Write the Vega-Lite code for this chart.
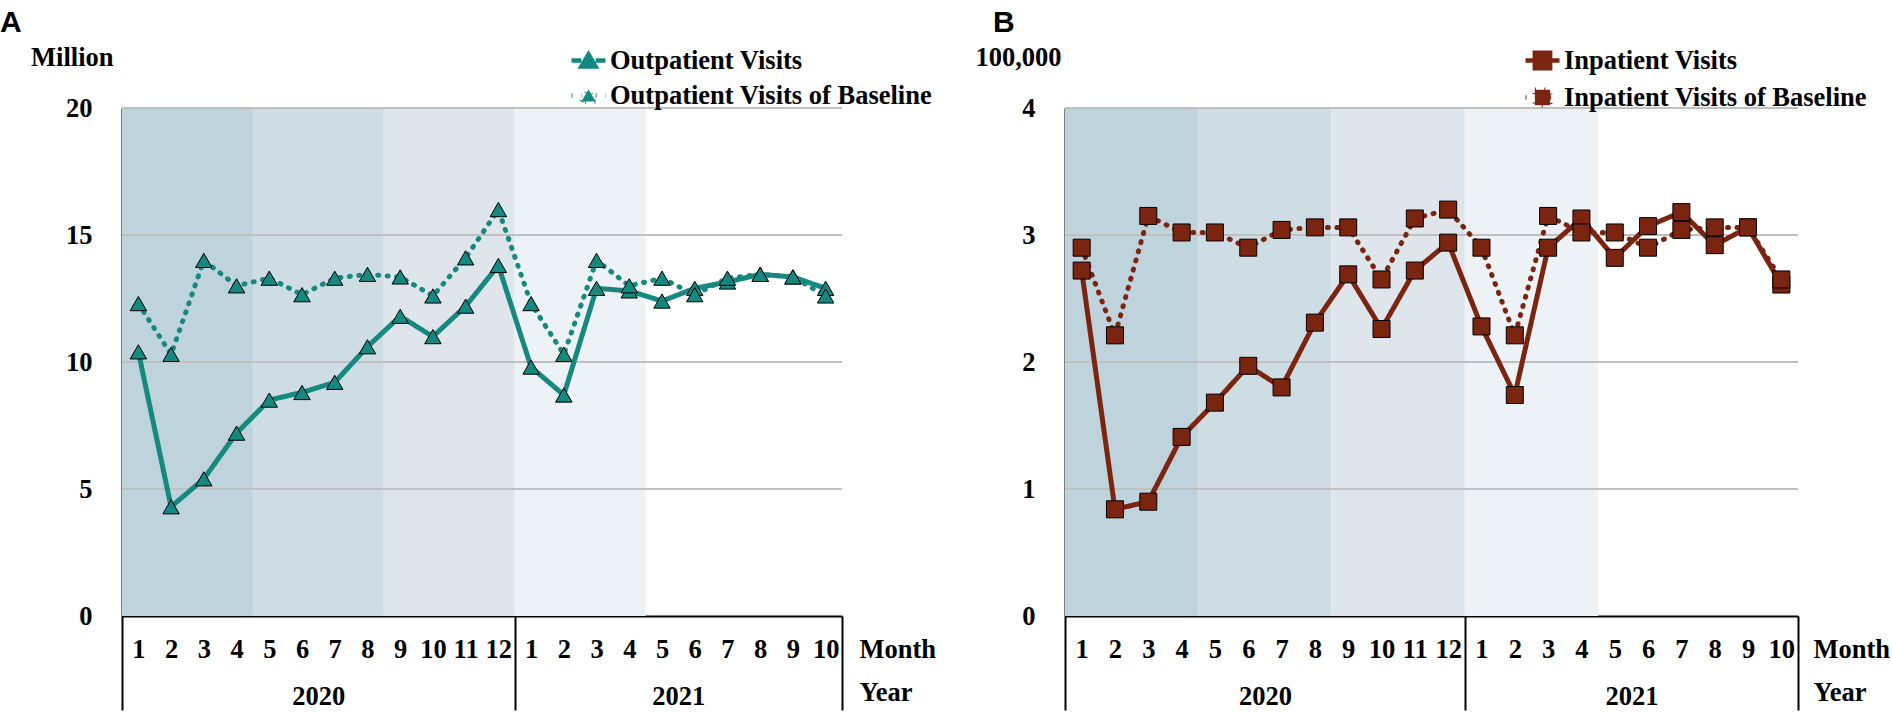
{
  "$schema": "https://vega.github.io/schema/vega-lite/v6.json",
  "background": "white",
  "padding": {"left": 0, "top": 8, "right": 0, "bottom": 0},
  "bounds": "flush",
  "spacing": 223,
  "resolve": {"scale": {"strokeDash": "independent", "color": "independent"}, "legend": {"strokeDash": "independent"}},
  "datasets": {
    "phases": [
      {"from": 0.5, "to": 4.5, "phase": "2020 Jan-Apr"},
      {"from": 4.5, "to": 8.5, "phase": "2020 May-Aug"},
      {"from": 8.5, "to": 12.5, "phase": "2020 Sep-Dec"},
      {"from": 12.5, "to": 16.5, "phase": "2021 Jan-Apr"}
    ],
    "gridA": [{"g": 5}, {"g": 10}, {"g": 15}, {"g": 20}],
    "gridB": [{"g": 1}, {"g": 2}, {"g": 3}, {"g": 4}],
    "opd": [
      {"t": 1, "year": 2020, "month": 1, "series": "Outpatient Visits", "value": 10.4},
      {"t": 2, "year": 2020, "month": 2, "series": "Outpatient Visits", "value": 4.3},
      {"t": 3, "year": 2020, "month": 3, "series": "Outpatient Visits", "value": 5.4},
      {"t": 4, "year": 2020, "month": 4, "series": "Outpatient Visits", "value": 7.2},
      {"t": 5, "year": 2020, "month": 5, "series": "Outpatient Visits", "value": 8.5},
      {"t": 6, "year": 2020, "month": 6, "series": "Outpatient Visits", "value": 8.8},
      {"t": 7, "year": 2020, "month": 7, "series": "Outpatient Visits", "value": 9.2},
      {"t": 8, "year": 2020, "month": 8, "series": "Outpatient Visits", "value": 10.6},
      {"t": 9, "year": 2020, "month": 9, "series": "Outpatient Visits", "value": 11.8},
      {"t": 10, "year": 2020, "month": 10, "series": "Outpatient Visits", "value": 11.0},
      {"t": 11, "year": 2020, "month": 11, "series": "Outpatient Visits", "value": 12.2},
      {"t": 12, "year": 2020, "month": 12, "series": "Outpatient Visits", "value": 13.8},
      {"t": 13, "year": 2021, "month": 1, "series": "Outpatient Visits", "value": 9.8},
      {"t": 14, "year": 2021, "month": 2, "series": "Outpatient Visits", "value": 8.7},
      {"t": 15, "year": 2021, "month": 3, "series": "Outpatient Visits", "value": 12.9},
      {"t": 16, "year": 2021, "month": 4, "series": "Outpatient Visits", "value": 12.8},
      {"t": 17, "year": 2021, "month": 5, "series": "Outpatient Visits", "value": 12.4},
      {"t": 18, "year": 2021, "month": 6, "series": "Outpatient Visits", "value": 12.9},
      {"t": 19, "year": 2021, "month": 7, "series": "Outpatient Visits", "value": 13.15},
      {"t": 20, "year": 2021, "month": 8, "series": "Outpatient Visits", "value": 13.45},
      {"t": 21, "year": 2021, "month": 9, "series": "Outpatient Visits", "value": 13.35},
      {"t": 22, "year": 2021, "month": 10, "series": "Outpatient Visits", "value": 12.9},
      {"t": 1, "year": 2020, "month": 1, "series": "Outpatient Visits of Baseline", "value": 12.3},
      {"t": 2, "year": 2020, "month": 2, "series": "Outpatient Visits of Baseline", "value": 10.3},
      {"t": 3, "year": 2020, "month": 3, "series": "Outpatient Visits of Baseline", "value": 14.0},
      {"t": 4, "year": 2020, "month": 4, "series": "Outpatient Visits of Baseline", "value": 13.0},
      {"t": 5, "year": 2020, "month": 5, "series": "Outpatient Visits of Baseline", "value": 13.3},
      {"t": 6, "year": 2020, "month": 6, "series": "Outpatient Visits of Baseline", "value": 12.65},
      {"t": 7, "year": 2020, "month": 7, "series": "Outpatient Visits of Baseline", "value": 13.3},
      {"t": 8, "year": 2020, "month": 8, "series": "Outpatient Visits of Baseline", "value": 13.45},
      {"t": 9, "year": 2020, "month": 9, "series": "Outpatient Visits of Baseline", "value": 13.35},
      {"t": 10, "year": 2020, "month": 10, "series": "Outpatient Visits of Baseline", "value": 12.6},
      {"t": 11, "year": 2020, "month": 11, "series": "Outpatient Visits of Baseline", "value": 14.1},
      {"t": 12, "year": 2020, "month": 12, "series": "Outpatient Visits of Baseline", "value": 16.0},
      {"t": 13, "year": 2021, "month": 1, "series": "Outpatient Visits of Baseline", "value": 12.3},
      {"t": 14, "year": 2021, "month": 2, "series": "Outpatient Visits of Baseline", "value": 10.3},
      {"t": 15, "year": 2021, "month": 3, "series": "Outpatient Visits of Baseline", "value": 14.0},
      {"t": 16, "year": 2021, "month": 4, "series": "Outpatient Visits of Baseline", "value": 13.0},
      {"t": 17, "year": 2021, "month": 5, "series": "Outpatient Visits of Baseline", "value": 13.3},
      {"t": 18, "year": 2021, "month": 6, "series": "Outpatient Visits of Baseline", "value": 12.65},
      {"t": 19, "year": 2021, "month": 7, "series": "Outpatient Visits of Baseline", "value": 13.3},
      {"t": 20, "year": 2021, "month": 8, "series": "Outpatient Visits of Baseline", "value": 13.45},
      {"t": 21, "year": 2021, "month": 9, "series": "Outpatient Visits of Baseline", "value": 13.35},
      {"t": 22, "year": 2021, "month": 10, "series": "Outpatient Visits of Baseline", "value": 12.6}
    ],
    "ipd": [
      {"t": 1, "year": 2020, "month": 1, "series": "Inpatient Visits", "value": 2.72},
      {"t": 2, "year": 2020, "month": 2, "series": "Inpatient Visits", "value": 0.84},
      {"t": 3, "year": 2020, "month": 3, "series": "Inpatient Visits", "value": 0.9},
      {"t": 4, "year": 2020, "month": 4, "series": "Inpatient Visits", "value": 1.41},
      {"t": 5, "year": 2020, "month": 5, "series": "Inpatient Visits", "value": 1.68},
      {"t": 6, "year": 2020, "month": 6, "series": "Inpatient Visits", "value": 1.97},
      {"t": 7, "year": 2020, "month": 7, "series": "Inpatient Visits", "value": 1.8},
      {"t": 8, "year": 2020, "month": 8, "series": "Inpatient Visits", "value": 2.31},
      {"t": 9, "year": 2020, "month": 9, "series": "Inpatient Visits", "value": 2.69},
      {"t": 10, "year": 2020, "month": 10, "series": "Inpatient Visits", "value": 2.26},
      {"t": 11, "year": 2020, "month": 11, "series": "Inpatient Visits", "value": 2.72},
      {"t": 12, "year": 2020, "month": 12, "series": "Inpatient Visits", "value": 2.94},
      {"t": 13, "year": 2021, "month": 1, "series": "Inpatient Visits", "value": 2.28},
      {"t": 14, "year": 2021, "month": 2, "series": "Inpatient Visits", "value": 1.74},
      {"t": 15, "year": 2021, "month": 3, "series": "Inpatient Visits", "value": 2.9},
      {"t": 16, "year": 2021, "month": 4, "series": "Inpatient Visits", "value": 3.13},
      {"t": 17, "year": 2021, "month": 5, "series": "Inpatient Visits", "value": 2.82},
      {"t": 18, "year": 2021, "month": 6, "series": "Inpatient Visits", "value": 3.07},
      {"t": 19, "year": 2021, "month": 7, "series": "Inpatient Visits", "value": 3.18},
      {"t": 20, "year": 2021, "month": 8, "series": "Inpatient Visits", "value": 2.92},
      {"t": 21, "year": 2021, "month": 9, "series": "Inpatient Visits", "value": 3.06},
      {"t": 22, "year": 2021, "month": 10, "series": "Inpatient Visits", "value": 2.61},
      {"t": 1, "year": 2020, "month": 1, "series": "Inpatient Visits of Baseline", "value": 2.9},
      {"t": 2, "year": 2020, "month": 2, "series": "Inpatient Visits of Baseline", "value": 2.21},
      {"t": 3, "year": 2020, "month": 3, "series": "Inpatient Visits of Baseline", "value": 3.15},
      {"t": 4, "year": 2020, "month": 4, "series": "Inpatient Visits of Baseline", "value": 3.02},
      {"t": 5, "year": 2020, "month": 5, "series": "Inpatient Visits of Baseline", "value": 3.02},
      {"t": 6, "year": 2020, "month": 6, "series": "Inpatient Visits of Baseline", "value": 2.9},
      {"t": 7, "year": 2020, "month": 7, "series": "Inpatient Visits of Baseline", "value": 3.04},
      {"t": 8, "year": 2020, "month": 8, "series": "Inpatient Visits of Baseline", "value": 3.06},
      {"t": 9, "year": 2020, "month": 9, "series": "Inpatient Visits of Baseline", "value": 3.06},
      {"t": 10, "year": 2020, "month": 10, "series": "Inpatient Visits of Baseline", "value": 2.65},
      {"t": 11, "year": 2020, "month": 11, "series": "Inpatient Visits of Baseline", "value": 3.13},
      {"t": 12, "year": 2020, "month": 12, "series": "Inpatient Visits of Baseline", "value": 3.2},
      {"t": 13, "year": 2021, "month": 1, "series": "Inpatient Visits of Baseline", "value": 2.9},
      {"t": 14, "year": 2021, "month": 2, "series": "Inpatient Visits of Baseline", "value": 2.21},
      {"t": 15, "year": 2021, "month": 3, "series": "Inpatient Visits of Baseline", "value": 3.15},
      {"t": 16, "year": 2021, "month": 4, "series": "Inpatient Visits of Baseline", "value": 3.02},
      {"t": 17, "year": 2021, "month": 5, "series": "Inpatient Visits of Baseline", "value": 3.02},
      {"t": 18, "year": 2021, "month": 6, "series": "Inpatient Visits of Baseline", "value": 2.9},
      {"t": 19, "year": 2021, "month": 7, "series": "Inpatient Visits of Baseline", "value": 3.04},
      {"t": 20, "year": 2021, "month": 8, "series": "Inpatient Visits of Baseline", "value": 3.06},
      {"t": 21, "year": 2021, "month": 9, "series": "Inpatient Visits of Baseline", "value": 3.06},
      {"t": 22, "year": 2021, "month": 10, "series": "Inpatient Visits of Baseline", "value": 2.65}
    ]
  },
  "hconcat": [
    {
      "width": 720,
      "height": 508,
      "title": {"text": "A", "dx": -122},
      "layer": [
        {
          "data": {"name": "phases"},
          "mark": "rect",
          "encoding": {
            "x": {"field": "from", "type": "quantitative",
              "scale": {"domain": [0.5, 22.5], "nice": false, "zero": false},
              "axis": {"orient": "bottom", "values": [6.5, 17.5], "labelExpr": "datum.value < 12 ? '2020' : '2021'",
                "labelPadding": 80, "labelBaseline": "middle", "labelFlush": false,
                "title": "Year", "titleX": 737, "titleY": 76, "titleAlign": "left", "titleBaseline": "middle"}},
            "x2": {"field": "to"},
            "y": {"datum": 0, "type": "quantitative"},
            "y2": {"datum": 20},
            "color": {"field": "phase", "type": "nominal", "legend": null,
              "scale": {"range": ["#bfd3dd", "#cedce4", "#dee6ec", "#ecf2f5"]}}
          }
        },
        {
          "data": {"name": "gridA"},
          "mark": {"type": "rule", "color": "#c0c0c0", "strokeWidth": 2},
          "encoding": {"y": {"field": "g", "type": "quantitative"}}
        },
        {
          "data": {"name": "opd"},
          "mark": {"type": "line", "color": "#15897f", "strokeWidth": 5, "strokeCap": "round"},
          "encoding": {
            "x": {"field": "t", "type": "quantitative",
              "scale": {"domain": [0.5, 22.5], "nice": false, "zero": false},
              "axis": {"orient": "bottom", "values": [1,2,3,4,5,6,7,8,9,10,11,12,13,14,15,16,17,18,19,20,21,22],
                "labelExpr": "'' + (datum.value > 12 ? datum.value - 12 : datum.value)",
                "labelPadding": 33, "labelBaseline": "middle", "labelFlush": false, "labelOverlap": false,
                "title": "Month", "titleX": 737, "titleY": 33, "titleAlign": "left", "titleBaseline": "middle"}},
            "y": {"field": "value", "type": "quantitative",
              "scale": {"domain": [0, 20], "nice": false},
              "axis": {"values": [0, 5, 10, 15, 20], "format": "d", "labelPadding": 30, "domain": true, "domainColor": "black", "domainWidth": 2,
                "title": "Million", "titleAngle": 0, "titleAlign": "right", "titleBaseline": "alphabetic", "titleX": -9, "titleY": -43}},
            "strokeDash": {"field": "series", "type": "nominal",
              "scale": {"domain": ["Outpatient Visits", "Outpatient Visits of Baseline"], "range": [[1, 0], [1, 8.5]]},
              "legend": {"legendX": 447, "legendY": -67, "symbolStrokeColor": "#15897f", "symbolFillColor": "#15897f"}}
          }
        },
        {
          "data": {"name": "opd"},
          "mark": {"type": "point", "shape": "triangle-up", "filled": true, "fill": "#15897f", "stroke": "black", "strokeWidth": 1, "size": 270, "opacity": 1},
          "encoding": {
            "x": {"field": "t", "type": "quantitative",
              "scale": {"domain": [0.5, 22.5], "nice": false, "zero": false},
              "axis": {"orient": "bottom", "values": [0.5, 12.5, 22.5], "labels": false, "ticks": true, "tickSize": 94, "tickColor": "black", "tickWidth": 2,
                "domain": true, "domainColor": "black", "domainWidth": 2, "title": null}},
            "y": {"field": "value", "type": "quantitative"}
          }
        }
      ],
      "resolve": {"axis": {"x": "independent"}}
    },
    {
      "width": 733,
      "height": 508,
      "title": {"text": "B", "dx": -72},
      "layer": [
        {
          "data": {"name": "phases"},
          "mark": "rect",
          "encoding": {
            "x": {"field": "from", "type": "quantitative",
              "scale": {"domain": [0.5, 22.5], "nice": false, "zero": false},
              "axis": {"orient": "bottom", "values": [6.5, 17.5], "labelExpr": "datum.value < 12 ? '2020' : '2021'",
                "labelPadding": 80, "labelBaseline": "middle", "labelFlush": false,
                "title": "Year", "titleX": 748, "titleY": 76, "titleAlign": "left", "titleBaseline": "middle"}},
            "x2": {"field": "to"},
            "y": {"datum": 0, "type": "quantitative"},
            "y2": {"datum": 4},
            "color": {"field": "phase", "type": "nominal", "legend": null,
              "scale": {"range": ["#bfd3dd", "#cedce4", "#dee6ec", "#ecf2f5"]}}
          }
        },
        {
          "data": {"name": "gridB"},
          "mark": {"type": "rule", "color": "#c0c0c0", "strokeWidth": 2},
          "encoding": {"y": {"field": "g", "type": "quantitative"}}
        },
        {
          "data": {"name": "ipd"},
          "mark": {"type": "line", "color": "#7b2511", "strokeWidth": 5, "strokeCap": "round"},
          "encoding": {
            "x": {"field": "t", "type": "quantitative",
              "scale": {"domain": [0.5, 22.5], "nice": false, "zero": false},
              "axis": {"orient": "bottom", "values": [1,2,3,4,5,6,7,8,9,10,11,12,13,14,15,16,17,18,19,20,21,22],
                "labelExpr": "'' + (datum.value > 12 ? datum.value - 12 : datum.value)",
                "labelPadding": 33, "labelBaseline": "middle", "labelFlush": false, "labelOverlap": false,
                "title": "Month", "titleX": 748, "titleY": 33, "titleAlign": "left", "titleBaseline": "middle"}},
            "y": {"field": "value", "type": "quantitative",
              "scale": {"domain": [0, 4], "nice": false},
              "axis": {"values": [0, 1, 2, 3, 4], "format": "d", "labelPadding": 30, "domain": true, "domainColor": "black", "domainWidth": 2,
                "title": "100,000", "titleAngle": 0, "titleAlign": "right", "titleBaseline": "alphabetic", "titleX": -4, "titleY": -43}},
            "strokeDash": {"field": "series", "type": "nominal",
              "scale": {"domain": ["Inpatient Visits", "Inpatient Visits of Baseline"], "range": [[1, 0], [1, 8.5]]},
              "legend": {"legendX": 458, "legendY": -67, "symbolType": "M-1,0L-0.45,0M0.45,0L1,0M-0.45,-0.45L0.45,-0.45L0.45,0.45L-0.45,0.45Z", "symbolStrokeColor": "#7b2511", "symbolFillColor": "#7b2511"}}
          }
        },
        {
          "data": {"name": "ipd"},
          "mark": {"type": "point", "shape": "square", "filled": true, "fill": "#7b2511", "stroke": "black", "strokeWidth": 1, "size": 289, "opacity": 1},
          "encoding": {
            "x": {"field": "t", "type": "quantitative",
              "scale": {"domain": [0.5, 22.5], "nice": false, "zero": false},
              "axis": {"orient": "bottom", "values": [0.5, 12.5, 22.5], "labels": false, "ticks": true, "tickSize": 94, "tickColor": "black", "tickWidth": 2,
                "domain": true, "domainColor": "black", "domainWidth": 2, "title": null}},
            "y": {"field": "value", "type": "quantitative"}
          }
        }
      ],
      "resolve": {"axis": {"x": "independent"}}
    }
  ],
  "config": {
    "view": {"stroke": null},
    "axis": {"labelFont": "Liberation Serif", "labelFontSize": 26.5, "labelFontWeight": "bold", "labelColor": "black",
      "titleFont": "Liberation Serif", "titleFontSize": 26.5, "titleFontWeight": "bold", "titleColor": "black",
      "grid": false, "ticks": false, "tickSize": 0, "domain": false, "labelAngle": 0},
    "legend": {"orient": "none", "title": null, "padding": 0, "symbolType": "M-1,0L-0.42,0M0.42,0L1,0M-0.42,0.36L0,-0.36L0.42,0.36Z",
      "symbolSize": 1156, "symbolStrokeWidth": 4.5, "labelFont": "Liberation Serif", "labelFontSize": 26.5, "labelFontWeight": "bold",
      "labelColor": "black", "labelOffset": 2, "rowPadding": -8, "labelLimit": 500},
    "title": {"anchor": "start", "frame": "group", "offset": 3, "baseline": "alphabetic", "font": "Liberation Sans", "fontSize": 30,
      "fontWeight": "bold", "color": "black"}
  }
}
